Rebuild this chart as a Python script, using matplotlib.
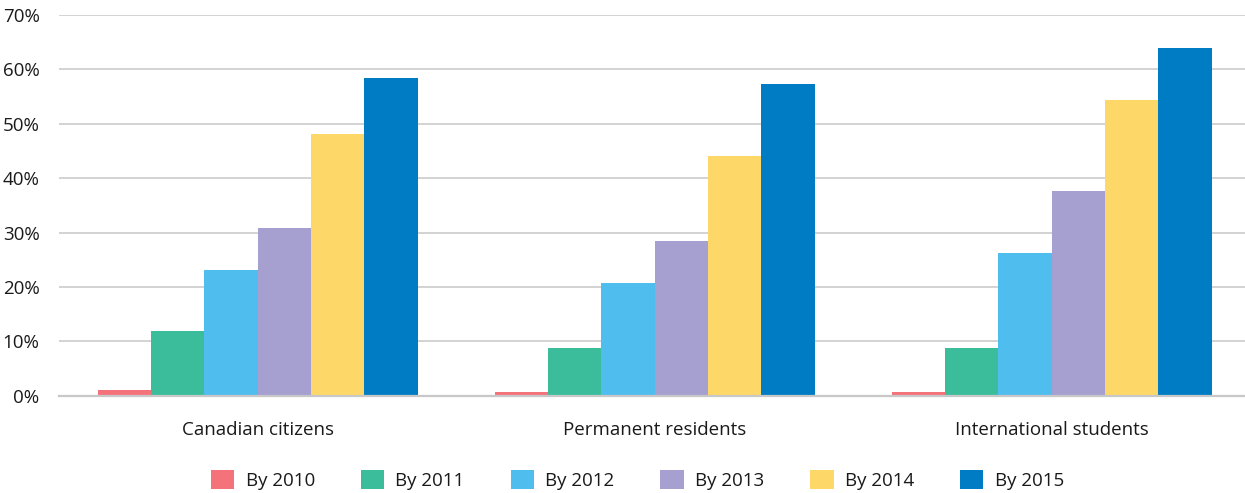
import numpy as np
import matplotlib.pyplot as plt
from matplotlib.patches import Patch

plt.rcParams['font.family'] = ['Open Sans', 'DejaVu Sans']

# data (percent)
categories = ['Canadian citizens', 'Permanent residents', 'International students']
series_names = ['By 2010', 'By 2011', 'By 2012', 'By 2013', 'By 2014', 'By 2015']
by_2010 = [1.1, 0.7, 0.7]
by_2011 = [12.0, 8.8, 8.8]
by_2012 = [23.2, 20.8, 26.2]
by_2013 = [30.8, 28.5, 37.6]
by_2014 = [48.1, 44.0, 54.3]
by_2015 = [58.4, 57.3, 63.9]
series = [by_2010, by_2011, by_2012, by_2013, by_2014, by_2015]
colors = ['#f4737a', '#3bbd9c', '#4fbdee', '#a6a0d0', '#fdd767', '#007cc5']
yticks = [0, 10, 20, 30, 40, 50, 60, 70]

fig = plt.figure(figsize=(12.45, 4.93), dpi=100)
ax = fig.add_axes([0.0474, 0.197, 0.9526, 0.773])

x = np.arange(len(categories))
group_w = 0.806
bw = group_w / len(series)
for i, (vals, col) in enumerate(zip(series, colors)):
    ax.bar(x - group_w / 2 + bw * (i + 0.5), vals, width=bw, color=col,
           zorder=3, linewidth=0)

ax.set_xlim(-0.5, 2.487)
ax.set_ylim(0, 70)
ax.set_yticks(yticks)
ax.set_yticklabels([f'{t}%' for t in yticks], fontsize=13.5, color='#1a1a1a')
ax.set_xticks(x)
ax.set_xticklabels(categories, fontsize=13.5, color='#1a1a1a')
ax.tick_params(axis='both', length=0)
ax.tick_params(axis='y', pad=14)
ax.tick_params(axis='x', pad=18)
ax.grid(axis='y', color='#cccccc', linewidth=1.2, zorder=0)
for s in ['top', 'right', 'left']:
    ax.spines[s].set_visible(False)
ax.spines['bottom'].set_color('#c8c8c8')
ax.spines['bottom'].set_linewidth(1.6)
ax.spines['bottom'].set_zorder(4)

handles = [Patch(facecolor=c, label=n) for c, n in zip(colors, series_names)]
fig.legend(handles=handles, loc='center', bbox_to_anchor=(0.512, 0.027),
           ncol=6, frameon=False, fontsize=13.5, handlelength=1.25,
           handleheight=1.25, handletextpad=0.6, columnspacing=2.45,
           labelcolor='#1a1a1a')

fig.savefig('out.png', dpi=100)
